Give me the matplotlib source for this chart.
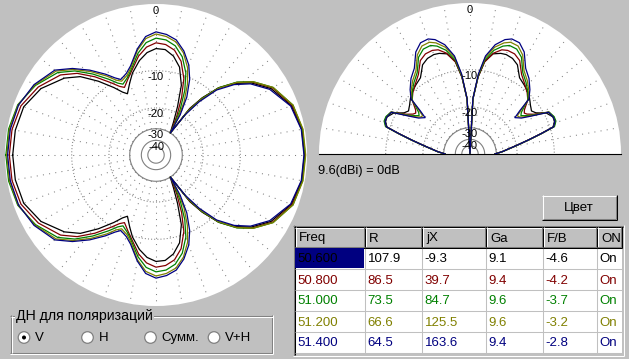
""" antenna pattern window (azimuth + elevation, 5 frequencies) """
import matplotlib
import matplotlib.pyplot as plt
from matplotlib.patches import Rectangle, Circle
import numpy as np
matplotlib.use('agg')

plt.rcParams['font.family'] = ['Liberation Sans', 'DejaVu Sans']

W, H = 629, 359

# ---- table data ----
headers = ['Freq', 'R', 'jX', 'Ga', 'F/B', 'ON']
freqs = [50.6, 50.8, 51.0, 51.2, 51.4]
res_r = [107.9, 86.5, 73.5, 66.6, 64.5]
res_jx = [-9.3, 39.7, 84.7, 125.5, 163.6]
gain_ga = [9.1, 9.4, 9.6, 9.6, 9.4]
ratio_fb = [-4.6, -4.2, -3.7, -3.2, -2.8]
state_on = ['On', 'On', 'On', 'On', 'On']
series_colors = ['#000000', '#800000', '#008000', '#808000', '#000080']

# ---- azimuth pattern (dB), upper half, deg clockwise from top ----
az_ang = [-90, -80, -70, -60, -50, -44, -38, -32, -28, -25, -20, -16, -10, -5,
          0, 5, 10, 15, 20, 24, 28, 31, 33, 36, 39, 43, 48, 53, 60, 70, 80, 90]
az_black = [-0.9, -0.95, -1.2, -2.2, -4.0, -5.6, -8.2, -11.0, -12.9, -13.8,
            -11.6, -9.8, -7.8, -6.6, -6.0, -6.1, -7.0, -8.7, -12.2, -18.0,
            -24.0, -28.0, -30.0, -16.5, -12.3, -8.6, -5.9, -4.0, -2.2, -0.8,
            -0.35, -0.3]
az_red = [-0.5, -0.55, -0.85, -1.8, -3.3, -4.9, -7.2, -9.8, -11.4, -12.1,
          -10.6, -9.3, -7.0, -5.7, -5.1, -5.3, -6.0, -7.6, -10.6, -15.0,
          -21.0, -26.5, -30.0, -17.0, -12.5, -8.5, -5.7, -3.8, -2.0, -0.7,
          -0.3, -0.25]
az_green = [-0.1, -0.15, -0.45, -1.4, -2.8, -4.4, -6.6, -9.0, -10.6, -11.3,
            -10.3, -9.0, -6.5, -5.0, -4.4, -4.6, -5.3, -6.8, -9.4, -13.0,
            -18.5, -24.5, -30.0, -17.5, -12.6, -8.5, -5.6, -3.7, -1.9, -0.6,
            -0.25, -0.2]
az_olive = [-0.2, -0.25, -0.5, -1.3, -2.5, -4.1, -6.1, -8.3, -9.9, -10.6,
            -9.9, -8.7, -6.0, -4.4, -3.8, -4.1, -4.7, -6.1, -8.4, -11.5,
            -16.0, -22.5, -30.0, -18.0, -13.0, -8.7, -5.7, -3.7, -1.9, -0.6,
            -0.2, -0.15]
az_blue = [-0.3, -0.35, -0.55, -1.2, -2.3, -3.9, -5.8, -7.9, -9.4, -10.2,
           -9.5, -8.4, -5.8, -4.1, -3.5, -3.8, -4.4, -5.8, -7.8, -10.3,
           -14.3, -20.0, -30.0, -19.0, -13.6, -9.1, -6.2, -4.2, -2.4, -0.9,
           -0.4, -0.35]

# ---- elevation pattern (dB), deg from zenith, one side ----
el_ang = [0, 3, 6, 9, 13, 17, 20, 24, 28, 33, 38, 43, 47, 49, 51, 53, 55, 58,
          62, 66, 69, 72, 74, 76.5, 80, 86, 90]
el_black = [-99, -17.4, -11.5, -8.2, -6.6, -6.2, -6.1, -6.3, -6.9, -8.7, -9.3,
            -9.9, -10.6, -11.0, -11.4, -11.7, -12.0, -11.4, -9.5, -8.7, -8.8,
            -9.4, -12.3, -15.9, -20.5, -26.7, -31.0]
el_red = [-99, -17.3, -11.4, -8.3, -6.5, -5.6, -5.4, -5.5, -6.1, -8.0, -9.1,
          -10.1, -11.1, -12.2, -13.2, -13.7, -13.3, -12.0, -9.0, -8.6, -8.6,
          -9.2, -12.1, -15.7, -20.3, -26.5, -31.0]
el_green = [-99, -17.3, -11.2, -7.9, -6.0, -5.0, -4.6, -4.7, -5.5, -7.6, -8.7,
            -9.9, -11.1, -12.8, -14.2, -14.8, -14.0, -12.4, -9.0, -8.5, -8.5,
            -9.1, -12.0, -15.6, -20.2, -26.4, -31.0]
el_olive = [-99, -17.2, -11.0, -7.5, -5.5, -4.5, -4.1, -4.2, -5.1, -7.2, -8.3,
            -9.6, -11.0, -13.5, -15.6, -15.4, -14.6, -12.7, -9.1, -8.7, -8.7,
            -9.3, -12.2, -15.8, -20.4, -26.6, -31.0]
el_blue = [-99, -17.2, -10.8, -7.2, -5.1, -4.0, -3.6, -3.7, -4.6, -6.7, -7.8,
           -9.3, -10.8, -14.2, -16.5, -15.8, -15.1, -12.9, -9.1, -8.7, -8.7,
           -9.3, -12.2, -15.8, -20.4, -26.6, -31.0]

ring_db = [0, -10, -20, -30, -40]
gain_ref = "9.6(dBi) = 0dB"


def db_to_r(db):
    """ ARRL log scale radius """
    return 0.89 ** (-np.asarray(db, dtype=float) / 2.0)


def mirror_az(ang, vals):
    """ pattern symmetric about the horizontal axis """
    a = list(ang) + [180 - x for x in reversed(ang[:-1])]
    v = list(vals) + list(reversed(vals[:-1]))
    return np.deg2rad(a), v


def mirror_el(ang, vals):
    """ pattern symmetric about the vertical axis """
    a = [-x for x in reversed(ang)] + list(ang[1:])
    v = list(reversed(vals)) + list(vals[1:])
    return np.deg2rad(a), v


def setup_polar(ax, half=False):
    ax.set_theta_zero_location('N')
    ax.set_theta_direction(-1)
    if half:
        ax.set_thetamin(-90)
        ax.set_thetamax(90)
    ax.set_rlim(0, 1)
    ax.set_xticks([])
    ax.set_yticks([])
    ax.grid(False)
    for sp in ax.spines.values():
        sp.set_visible(False)
    ax.set_facecolor('white')

    t0, t1 = (-90, 90) if half else (0, 360)
    th = np.deg2rad(np.linspace(t0, t1, 361))
    gcol = '#808080'
    for db in (-10, -20):
        ax.plot(th, np.full_like(th, db_to_r(db)), color=gcol, lw=0.75,
                ls=(0, (1, 2)))
    for db in (-30, -40, -50):
        ax.plot(th, np.full_like(th, db_to_r(db)), color=gcol, lw=0.8)
    for deg in range(t0, t1 + 1, 10):
        ax.plot(np.deg2rad([deg, deg]), [db_to_r(-30), 1.0], color=gcol,
                lw=0.75, ls=(0, (1, 5)))
    for db in ring_db:
        ax.text(0, db_to_r(db) - 0.01, str(db), ha='center', va='top',
                fontsize=8, color='black', zorder=4)


fig = plt.figure(figsize=(W / 100, H / 100), dpi=100, facecolor='#c0c0c0')

# left: azimuth
ax_az = fig.add_axes([5 / W, 53 / H, 302 / W, 302 / H], projection='polar')
setup_polar(ax_az)
for vals, col in zip([az_black, az_red, az_green, az_olive, az_blue],
                     series_colors):
    th, v = mirror_az(az_ang, vals)
    ax_az.plot(th, db_to_r(v), color=col, lw=0.9, zorder=3)

# right: elevation (square box so the half disc keeps its full radius)
ax_el = fig.add_axes([319 / W, 129.5 / H, 302 / W, 302 / H],
                     projection='polar')
setup_polar(ax_el, half=True)
for vals, col in zip([el_black, el_red, el_green, el_olive, el_blue],
                     series_colors):
    th, v = mirror_el(el_ang, vals)
    ax_el.plot(th, db_to_r(v), color=col, lw=0.9, zorder=3)

# ---- dialog widgets in pixel coordinates ----
ui = fig.add_axes([0, 0, 1, 1])
ui.set_xlim(0, W)
ui.set_ylim(H, 0)
ui.axis('off')
ui.set_zorder(10)


def hline(x0, x1, y, col, z=5):
    ui.plot([x0, x1], [y, y], color=col, lw=0.75, zorder=z,
            solid_capstyle='butt')


def vline(x, y0, y1, col, z=5):
    ui.plot([x, x], [y0, y1], color=col, lw=0.75, zorder=z,
            solid_capstyle='butt')


ui.text(318, 171, gain_ref, fontsize=9.2, va='center', ha='left')

# button
ui.add_patch(Rectangle((542, 195), 75, 25, facecolor='#c0c0c0',
                       edgecolor='none', zorder=4))
hline(542, 617, 195.5, 'white')
vline(542.5, 195, 220, 'white')
hline(542, 617, 219.5, 'black')
vline(616.5, 195, 220, 'black')
hline(543, 616, 218.5, '#808080')
vline(615.5, 196, 219, '#808080')
ui.text(579, 208, 'Цвет', fontsize=9.5, ha='center', va='center', zorder=6)

# table
col_x = [295, 365, 422, 486, 543, 597, 622]
row_y = [227, 248, 269, 290, 311, 332, 353]
ui.add_patch(Rectangle((293, 225), 331, 131, facecolor='#c0c0c0',
                       edgecolor='none', zorder=3))
ui.add_patch(Rectangle((col_x[0], row_y[1]), col_x[-1] - col_x[0],
                       row_y[-1] - row_y[1], facecolor='white',
                       edgecolor='none', zorder=4))
hline(293, 624, 225.5, '#808080')
vline(293.5, 225, 356, '#808080')
hline(294, 623, 226.5, 'black')
vline(294.5, 226, 355, 'black')
hline(293, 624, 355.5, 'white')
vline(623.5, 225, 356, 'white')
for x in col_x[1:-1]:
    vline(x - 0.5, row_y[1], row_y[-1], '#c0c0c0')
for y in row_y[2:]:
    hline(col_x[0], col_x[-1], y - 0.5, '#c0c0c0')

for i, name in enumerate(headers):
    x0, x1 = col_x[i], col_x[i + 1]
    hline(x0, x1, row_y[0] + 0.5, 'white')
    vline(x0 + 0.5, row_y[0], row_y[1], 'white')
    hline(x0, x1, row_y[1] - 1.5, '#808080')
    vline(x1 - 1.5, row_y[0], row_y[1], '#808080')
    hline(x0, x1, row_y[1] - 0.5, 'black')
    vline(x1 - 0.5, row_y[0], row_y[1], 'black')
    ui.text(x0 + 4, (row_y[0] + row_y[1]) / 2 + 1, name, fontsize=9.5,
            va='center', ha='left', zorder=6)

ui.add_patch(Rectangle((col_x[0], row_y[1]), col_x[1] - col_x[0] - 1,
                       row_y[2] - row_y[1] - 1, facecolor='#000080',
                       edgecolor='none', zorder=5))

for r in range(len(freqs)):
    cells = ['%.3f' % freqs[r], '%.1f' % res_r[r], '%.1f' % res_jx[r],
             '%.1f' % gain_ga[r], '%.1f' % ratio_fb[r], state_on[r]]
    yc = (row_y[r + 1] + row_y[r + 2]) / 2 + 1
    for c, txt in enumerate(cells):
        ui.text(col_x[c] + 2.5, yc, txt, fontsize=9.5, va='center',
                ha='left', color=series_colors[r], zorder=6)

# polarisation group box
hline(10, 273, 315.5, '#808080')
vline(10.5, 315, 354, '#808080')
hline(10, 273, 352.5, '#808080')
vline(271.5, 315, 353, '#808080')
hline(11, 273, 316.5, 'white')
vline(11.5, 316, 353, 'white')
hline(10, 273, 353.5, 'white')
vline(272.5, 315, 354, 'white')
ui.text(16, 316, 'ДН для поляризаций', fontsize=10.2, va='center', ha='left',
        zorder=7, bbox=dict(facecolor='#c0c0c0', edgecolor='none', pad=0.5))

radio_x = [24, 87.5, 150.5, 214]
radio_lbl = ['V', 'H', 'Сумм.', 'V+H']
for i, (rx, lbl) in enumerate(zip(radio_x, radio_lbl)):
    ui.add_patch(Circle((rx, 337.5), 5.8, facecolor='white',
                        edgecolor='#808080', lw=0.9, zorder=5))
    if i == 0:
        ui.add_patch(Circle((rx, 337.5), 2.0, facecolor='black',
                            edgecolor='none', zorder=6))
    ui.text(rx + 11, 338, lbl, fontsize=9.5, va='center', ha='left', zorder=6)

fig.savefig('out.png', dpi=100, facecolor=fig.get_facecolor())
